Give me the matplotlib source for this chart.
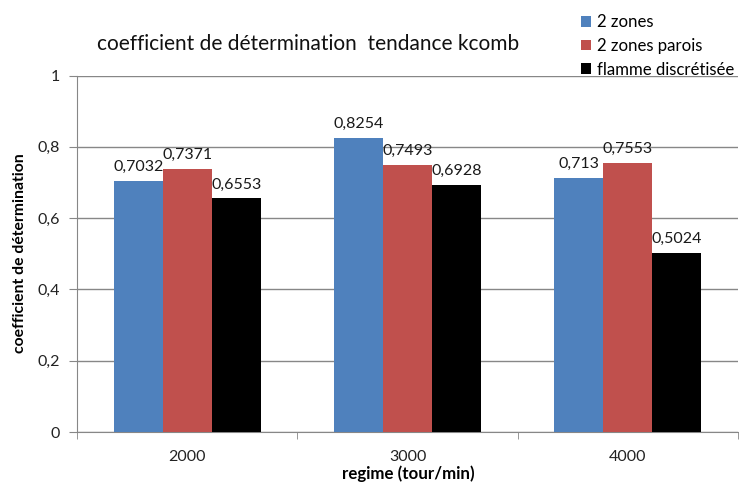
import matplotlib
matplotlib.use("Agg")
import matplotlib.pyplot as plt
from matplotlib.patches import Patch
import numpy as np

plt.rcParams['font.family'] = ['Lato', 'DejaVu Sans']

regimes = ["2000", "3000", "4000"]
series_names = ["2 zones", "2 zones parois", "flamme discrétisée"]
zones2 = [0.7032, 0.8254, 0.713]
zones2_parois = [0.7371, 0.7493, 0.7553]
flamme = [0.6553, 0.6928, 0.5024]
series_values = [zones2, zones2_parois, flamme]
colors = ["#4F81BD", "#C0504D", "#000000"]
yticks = [0, 0.2, 0.4, 0.6, 0.8, 1.0]
ytick_labels = ["0", "0,2", "0,4", "0,6", "0,8", "1"]

fig = plt.figure(figsize=(7.39, 4.84), dpi=100)
ax = fig.add_axes([77 / 739, 1 - 432 / 484, 661 / 739, (432 - 75.5) / 484])

x = np.arange(len(regimes))
width = 1 / 4.5
for i, (vals, col) in enumerate(zip(series_values, colors)):
    bars = ax.bar(x + (i - 1) * width, vals, width, color=col, zorder=3, linewidth=0)
    for b, v in zip(bars, vals):
        ax.annotate(f"{v:g}".replace(".", ","),
                    (b.get_x() + b.get_width() / 2, v),
                    xytext=(0, 5), textcoords="offset points",
                    ha="center", va="bottom", fontsize=11.5, color="#1a1a1a")

ax.set_xlim(-0.5, 2.5)
ax.set_ylim(0, 1)
ax.set_yticks(yticks)
ax.set_yticklabels(ytick_labels, fontsize=11.5, color="#222222")
ax.yaxis.grid(True, color="#878787", linewidth=1, zorder=0)
ax.set_axisbelow(True)
ax.tick_params(axis="y", length=6, color="#878787", pad=6)

ax.set_xticks(x)
ax.set_xticklabels(regimes, fontsize=11.5, color="#222222")
ax.tick_params(axis="x", length=0, pad=13)
ax.set_xticks([-0.5, 0.5, 1.5, 2.5], minor=True)
ax.tick_params(axis="x", which="minor", length=5, color="#878787")

for s in ["top", "right"]:
    ax.spines[s].set_visible(False)
for s in ["left", "bottom"]:
    ax.spines[s].set_color("#878787")

fig.text(20 / 739, 1 - 253 / 484, "coefficient de détermination", rotation=90,
         ha="center", va="center", fontsize=11.3, fontweight="bold")
fig.text(408 / 739, 1 - 474 / 484, "regime (tour/min)", ha="center", va="center",
         fontsize=12.2, fontweight="bold")
fig.text(308 / 739, 1 - 44 / 484, "coefficient de détermination  tendance kcomb",
         ha="center", va="center", fontsize=15, color="#111111")

handles = [Patch(facecolor=c, edgecolor="none") for c in colors]
leg = fig.legend(handles, series_names, loc="upper left",
                 bbox_to_anchor=(573 / 739, 1 - 6 / 484), frameon=False,
                 fontsize=12.1, handlelength=0.6, handleheight=0.6,
                 handletextpad=0.3, labelspacing=0.45, borderpad=0)

fig.savefig("out.png", dpi=100, facecolor="white")
